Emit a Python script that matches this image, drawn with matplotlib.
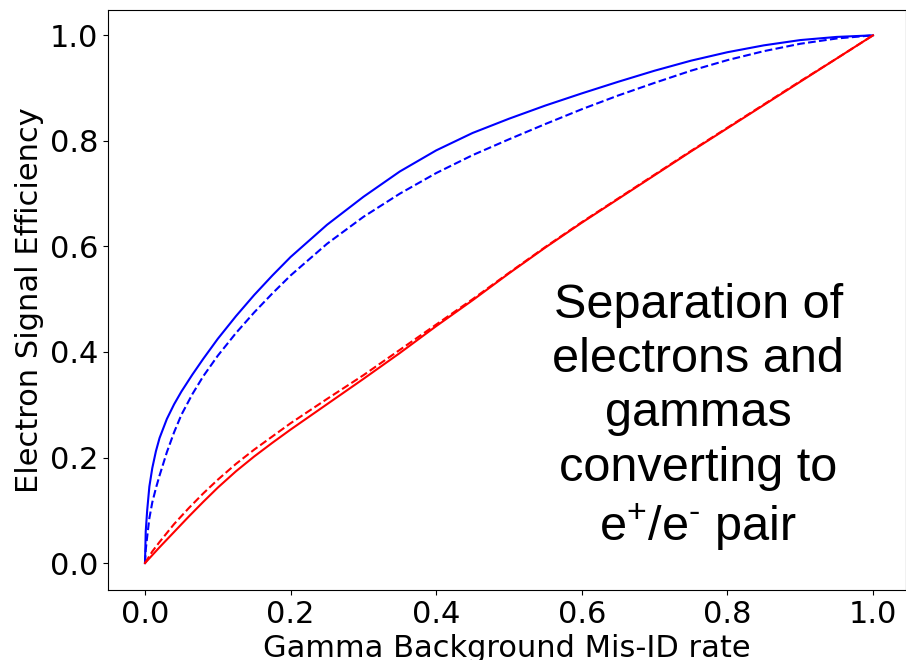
import matplotlib
matplotlib.use("Agg")
import matplotlib.pyplot as plt

plt.rcParams['mathtext.fontset'] = 'custom'
plt.rcParams['mathtext.rm'] = 'Liberation Sans'
plt.rcParams['mathtext.it'] = 'Liberation Sans:italic'

# Blue curves (electron vs gamma)
blue_x = [0.0, 0.001, 0.003, 0.006, 0.01, 0.015, 0.02, 0.03, 0.04, 0.05, 0.065, 0.08,
          0.1, 0.125, 0.15, 0.175, 0.2, 0.25, 0.3, 0.35, 0.4, 0.45, 0.5, 0.55, 0.6,
          0.65, 0.7, 0.75, 0.8, 0.85, 0.9, 0.95, 1.0]
blue_solid = [0.0, 0.06, 0.10, 0.145, 0.18, 0.212, 0.237, 0.273, 0.301, 0.325, 0.357, 0.387,
              0.425, 0.468, 0.508, 0.545, 0.58, 0.641, 0.694, 0.742, 0.782, 0.815, 0.842, 0.867, 0.89,
              0.912, 0.933, 0.952, 0.968, 0.981, 0.991, 0.997, 1.0]
blue_dashed = [0.0, 0.025, 0.05, 0.085, 0.115, 0.142, 0.166, 0.21, 0.248, 0.281, 0.32, 0.354,
               0.393, 0.436, 0.475, 0.511, 0.545, 0.605, 0.656, 0.70, 0.739, 0.773, 0.803, 0.832, 0.86,
               0.886, 0.91, 0.933, 0.953, 0.97, 0.984, 0.994, 1.0]

# Red curves (converted gammas)
red_x = [0.0, 0.01, 0.02, 0.04, 0.06, 0.08, 0.1, 0.125, 0.15, 0.175, 0.2, 0.25, 0.3, 0.35,
         0.4, 0.45, 0.5, 0.55, 0.6, 0.65, 0.7, 0.75, 0.8, 0.85, 0.9, 0.95, 1.0]
red_solid = [0.0, 0.015, 0.03, 0.059, 0.088, 0.116, 0.143, 0.174, 0.202, 0.228, 0.253, 0.301, 0.349, 0.398,
             0.449, 0.498, 0.549, 0.598, 0.645, 0.69, 0.735, 0.78, 0.824, 0.868, 0.912, 0.956, 1.0]
red_dashed = [0.0, 0.022, 0.04, 0.074, 0.104, 0.132, 0.158, 0.188, 0.215, 0.24, 0.265, 0.311, 0.356, 0.404,
              0.452, 0.5, 0.55, 0.599, 0.646, 0.691, 0.736, 0.781, 0.825, 0.869, 0.913, 0.956, 1.0]

xticks = [0.0, 0.2, 0.4, 0.6, 0.8, 1.0]
yticks = [0.0, 0.2, 0.4, 0.6, 0.8, 1.0]

W, H = 906, 660
fig = plt.figure(figsize=(W / 100, H / 100), dpi=100)
ax = fig.add_axes([108 / W, 70 / H, 798 / W, 580 / H])

ax.plot(blue_x, blue_solid, color='blue', lw=1.5)
ax.plot(blue_x, blue_dashed, color='blue', lw=1.5, ls='--')
ax.plot(red_x, red_solid, color='red', lw=1.5)
ax.plot(red_x, red_dashed, color='red', lw=1.5, ls='--')

ax.set_xlim(-37 / 728, 761 / 728)
ax.set_ylim(-0.051, 1.048)
ax.set_xticks(xticks)
ax.set_yticks(yticks)
ax.set_xticklabels([f"{t:.1f}" for t in xticks])
ax.set_yticklabels([f"{t:.1f}" for t in yticks])
ax.tick_params(labelsize=22)

ax.set_xlabel("Gamma Background Mis-ID rate", fontsize=22)
ax.set_ylabel("Electron Signal Efficiency", fontsize=22)

ax.text(0.76, 0.275,
        "Separation of\nelectrons and\ngammas\nconverting to\ne$^{+}$/e$^{\u2010}$ pair",
        fontsize=35, family='Liberation Sans', ha='center', va='center',
        multialignment='center', linespacing=1.27)

fig.savefig("out.png", dpi=100)
